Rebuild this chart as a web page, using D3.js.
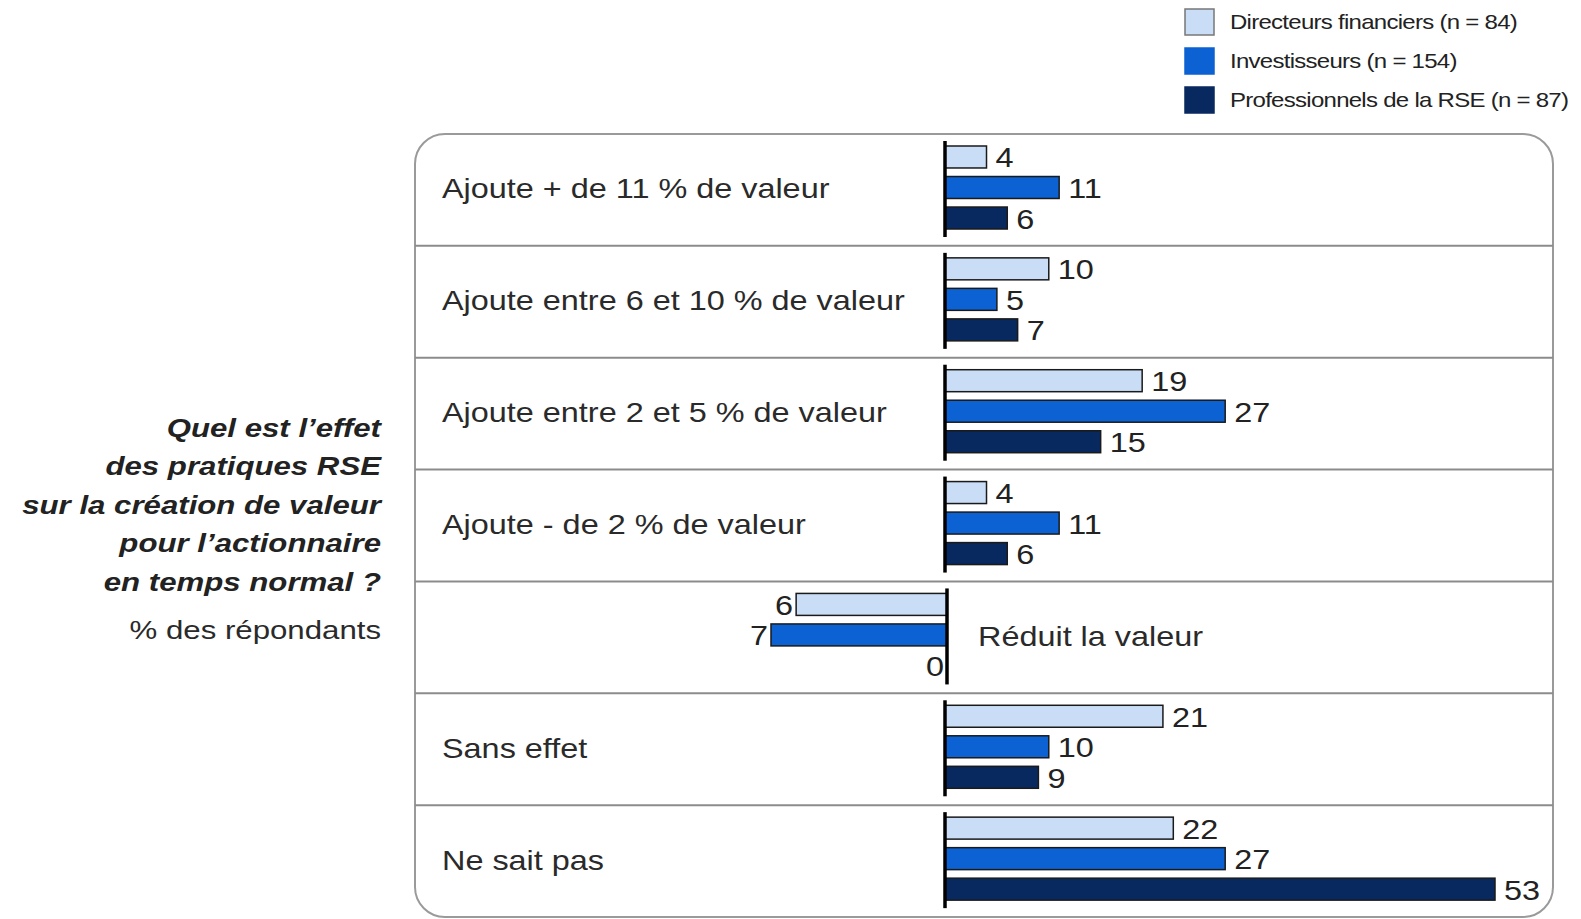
<!DOCTYPE html>
<html>
<head>
<meta charset="utf-8">
<script src="https://cdn.jsdelivr.net/npm/d3@7"></script>
<style>
  body { margin: 0; background: #ffffff; }
  svg { display: block; font-family: "Liberation Sans", Arial, sans-serif; }
</style>
</head>
<body>
<svg id="chart" width="1581" height="919"></svg>
<script>
// données
const categories = [
  'Ajoute + de 11 % de valeur',
  'Ajoute entre 6 et 10 % de valeur',
  'Ajoute entre 2 et 5 % de valeur',
  'Ajoute - de 2 % de valeur',
  'Réduit la valeur',
  'Sans effet',
  'Ne sait pas'
];
const series = ['Directeurs financiers (n = 84)', 'Investisseurs (n = 154)', 'Professionnels de la RSE (n = 87)'];
const directeurs = [4, 10, 19, 4, 6, 21, 22];
const investisseurs = [11, 5, 27, 11, 7, 10, 27];
const professionnels = [6, 7, 15, 6, 0, 9, 53];
const negatifs = ['Réduit la valeur'];
const questionLines = [
  'Quel est l\u2019effet',
  'des pratiques RSE',
  'sur la création de valeur',
  'pour l\u2019actionnaire',
  'en temps normal ?'
];
const sousTitre = '% des répondants';

const colors = ['#c9def6', '#0c62d2', '#08295f'];
const valuesBySerie = [directeurs, investisseurs, professionnels];

const svg = d3.select('#chart');

// le texte de l'original est étiré horizontalement
const stretch = 1.2;
function addText(parent, x, y, str, size) {
  return parent.append('text')
    .attr('transform', `translate(${x},${y}) scale(${stretch},1)`)
    .attr('dominant-baseline', 'central')
    .attr('font-size', size)
    .text(str);
}

// cadre arrondi
const box = { x: 415, y: 134, w: 1138, h: 783, r: 30 };
svg.append('rect')
  .attr('x', box.x).attr('y', box.y)
  .attr('width', box.w).attr('height', box.h)
  .attr('rx', box.r).attr('ry', box.r)
  .attr('fill', '#ffffff')
  .attr('stroke', '#9a9a9a')
  .attr('stroke-width', 2);

// lignes
const yRow = d3.scaleBand().domain(categories).range([box.y, box.y + box.h]);
const yBar = d3.scaleBand().domain(series).range([12, 95]).paddingInner(0.28);

const axisX = 945;
const x = d3.scaleLinear().domain([0, 53]).range([axisX, axisX + 550]);
// la ligne "Réduit la valeur" n'a pas la même échelle dans l'original
const xNeg = d3.scaleLinear().domain([0, 7]).range([axisX + 2, axisX + 2 - 176]);

// séparateurs
categories.slice(1).forEach((c) => {
  svg.append('line')
    .attr('x1', box.x).attr('x2', box.x + box.w)
    .attr('y1', yRow(c)).attr('y2', yRow(c))
    .attr('stroke', '#8c8c8c')
    .attr('stroke-width', 2);
});

categories.forEach((cat, i) => {
  const top = yRow(cat);
  const g = svg.append('g').attr('transform', `translate(0,${top})`);
  const neg = negatifs.includes(cat);
  const sc = neg ? xNeg : x;

  series.forEach((s, j) => {
    const v = valuesBySerie[j][i];
    const x0 = sc(0), x1 = sc(v);
    if (v > 0) {
      g.append('rect')
        .attr('x', Math.min(x0, x1))
        .attr('y', yBar(s))
        .attr('width', Math.abs(x1 - x0))
        .attr('height', yBar.bandwidth())
        .attr('fill', colors[j])
        .attr('stroke', '#1a1a1a')
        .attr('stroke-width', 1.5);
    }
    addText(g, neg ? x1 - 3 : x1 + 9, yBar(s) + yBar.bandwidth() / 2 + 1, v, 27)
      .attr('text-anchor', neg ? 'end' : 'start')
      .attr('fill', '#222');
  });

  // axe vertical
  g.append('line')
    .attr('x1', sc(0)).attr('x2', sc(0))
    .attr('y1', 7).attr('y2', 103)
    .attr('stroke', '#000')
    .attr('stroke-width', 3.5);

  addText(g, neg ? sc(0) + 31 : 442, yRow.bandwidth() / 2 - 1, cat, 27)
    .attr('fill', '#2a2a2a');
});

// question à gauche
const q = svg.append('g');
questionLines.forEach((t, i) => {
  addText(q, 381, 428 + i * 38.4, t, 26)
    .attr('text-anchor', 'end')
    .attr('font-style', 'italic')
    .attr('font-weight', 'bold')
    .attr('fill', '#222');
});
addText(q, 381, 630, sousTitre, 26)
  .attr('text-anchor', 'end')
  .attr('fill', '#2a2a2a');

// légende
const leg = svg.append('g').attr('transform', 'translate(1185,9)');
series.forEach((s, j) => {
  const row = leg.append('g').attr('transform', `translate(0,${j * 39})`);
  row.append('rect')
    .attr('x', 0).attr('y', 0)
    .attr('width', 29).attr('height', 26)
    .attr('fill', colors[j])
    .attr('stroke', j === 0 ? '#777' : colors[j])
    .attr('stroke-width', 1.5);
  addText(row, 45, 13, s, 20)
    .attr('letter-spacing', -0.6)
    .attr('fill', '#222');
});
</script>
</body>
</html>
